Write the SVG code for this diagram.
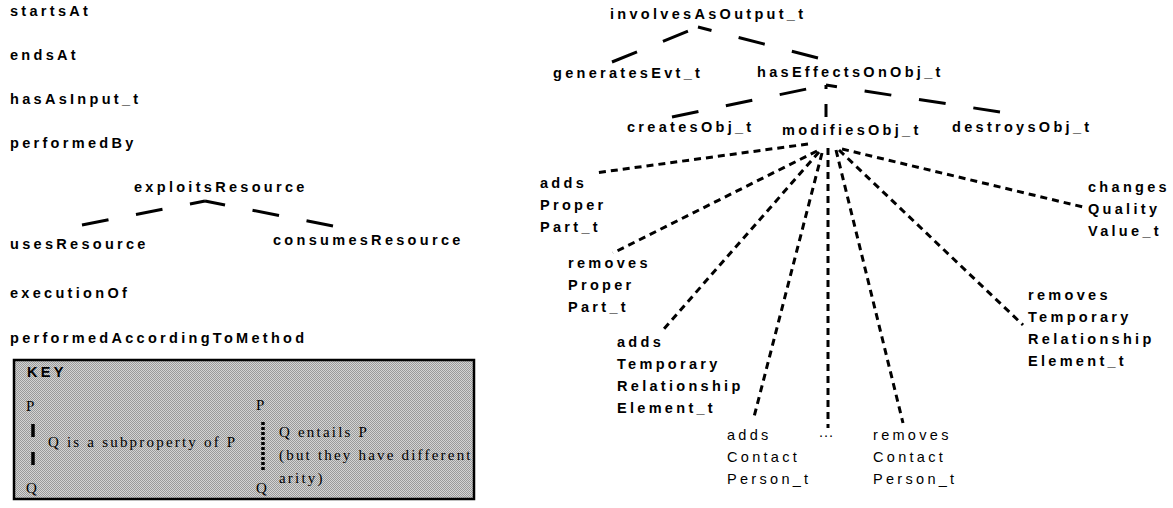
<svg xmlns="http://www.w3.org/2000/svg" width="1173" height="508" viewBox="0 0 1173 508">
  <style>
    .lb { font-family: "Liberation Sans", Arial, sans-serif; font-weight: bold; font-size: 14.5px; letter-spacing: 3.3px; fill: #000; }
    .ln { font-family: "Liberation Sans", Arial, sans-serif; font-weight: normal; font-size: 14.5px; letter-spacing: 3.3px; fill: #000; }
    .ks { font-family: "Liberation Serif", "Times New Roman", serif; font-size: 15px; letter-spacing: 2.2px; fill: #000; }
    .sub { fill: none; stroke: #000; stroke-width: 3; stroke-dasharray: 27 28; }
    .ent { fill: none; stroke: #000; stroke-width: 3; stroke-dasharray: 7 5; }
  </style>
  <defs>
    <pattern id="dither" width="2" height="2" patternUnits="userSpaceOnUse">
      <rect width="2" height="2" fill="#d4d4d4"/>
      <rect width="1" height="1" fill="#9a9a9a"/>
      <rect x="1" y="1" width="1" height="1" fill="#9a9a9a"/>
    </pattern>
  </defs>
  <rect width="1173" height="508" fill="#fff"/>

  <!-- connectors: dashed = subproperty, dotted = entailment -->
  <g id="connectors">
    <path class="sub" d="M82,225 L205,201"/>
    <path class="sub" d="M333,226 L205,201"/>
    <path class="sub" d="M612,62 L698,27"/>
    <path class="sub" d="M818,58 L698,27"/>
    <path class="sub" d="M672,117 L826,85"/>
    <path class="sub" d="M1000,112 L826,85"/>
    <path class="sub" d="M826,117 L826,85" style="stroke-dasharray:13 15"/>
    <path class="ent" d="M808,144 L595,173"/>
    <path class="ent" d="M817,151 L613,253"/>
    <path class="ent" d="M819,152 L663,330"/>
    <path class="ent" d="M822,153 L754,417"/>
    <path class="ent" d="M828,148 L828,428"/>
    <path class="ent" d="M836,150 L903,423"/>
    <path class="ent" d="M839,150 L1023,325"/>
    <path class="ent" d="M842,149 L1083,207"/>
  </g>

  <!-- process properties -->
  <g id="startsAt"><text class="lb" x="10" y="16">startsAt</text></g>
  <g id="endsAt"><text class="lb" x="10" y="60">endsAt</text></g>
  <g id="hasAsInput_t"><text class="lb" x="10" y="104">hasAsInput_t</text></g>
  <g id="performedBy"><text class="lb" x="10" y="148">performedBy</text></g>
  <g id="exploitsResource"><text class="lb" x="134" y="192">exploitsResource</text></g>
  <g id="usesResource"><text class="lb" x="10" y="249">usesResource</text></g>
  <g id="consumesResource"><text class="lb" x="273" y="245">consumesResource</text></g>
  <g id="executionOf"><text class="lb" x="10" y="298">executionOf</text></g>
  <g id="performedAccordingToMethod"><text class="lb" x="10" y="343">performedAccordingToMethod</text></g>

  <!-- legend -->
  <g id="key">
    <rect x="14" y="360" width="460" height="139" fill="url(#dither)" stroke="#000" stroke-width="2.5"/>
    <text class="lb" x="27" y="377">KEY</text>
    <text class="ks" x="26" y="411">P</text>
    <line x1="33" y1="424" x2="33" y2="437" stroke="#000" stroke-width="3.5"/>
    <line x1="33" y1="452" x2="33" y2="465" stroke="#000" stroke-width="3.5"/>
    <text class="ks" x="48" y="447">Q is a subproperty of P</text>
    <text class="ks" x="26" y="493">Q</text>
    <text class="ks" x="256" y="410">P</text>
    <line x1="263" y1="422" x2="263" y2="470" stroke="#000" stroke-width="3.5" stroke-dasharray="3 2"/>
    <text class="ks" x="279" y="437">Q entails P</text>
    <text class="ks" x="279" y="460">(but they have different</text>
    <text class="ks" x="279" y="483">arity)</text>
    <text class="ks" x="256" y="493">Q</text>
  </g>

  <!-- output properties -->
  <g id="involvesAsOutput_t"><text class="lb" x="610" y="19">involvesAsOutput_t</text></g>
  <g id="generatesEvt_t"><text class="lb" x="553" y="78">generatesEvt_t</text></g>
  <g id="hasEffectsOnObj_t"><text class="lb" x="757" y="77">hasEffectsOnObj_t</text></g>
  <g id="createsObj_t"><text class="lb" x="627" y="132">createsObj_t</text></g>
  <g id="modifiesObj_t"><text class="lb" x="782" y="135">modifiesObj_t</text></g>
  <g id="destroysObj_t"><text class="lb" x="952" y="132">destroysObj_t</text></g>

  <g id="addsProperPart_t">
    <text class="lb" x="540" y="188">adds</text>
    <text class="lb" x="540" y="210">Proper</text>
    <text class="lb" x="540" y="232">Part_t</text>
  </g>
  <g id="removesProperPart_t">
    <text class="lb" x="568" y="268">removes</text>
    <text class="lb" x="568" y="290">Proper</text>
    <text class="lb" x="568" y="312">Part_t</text>
  </g>
  <g id="addsTemporaryRelationshipElement_t">
    <text class="lb" x="617" y="347">adds</text>
    <text class="lb" x="617" y="369">Temporary</text>
    <text class="lb" x="617" y="391">Relationship</text>
    <text class="lb" x="617" y="413">Element_t</text>
  </g>
  <g id="addsContactPerson_t">
    <text class="ln" x="727" y="440">adds</text>
    <text class="ln" x="727" y="462">Contact</text>
    <text class="ln" x="727" y="484">Person_t</text>
  </g>
  <g id="more"><text class="ln" x="819" y="437" style="letter-spacing:1px">...</text></g>
  <g id="removesContactPerson_t">
    <text class="ln" x="873" y="440">removes</text>
    <text class="ln" x="873" y="462">Contact</text>
    <text class="ln" x="873" y="484">Person_t</text>
  </g>
  <g id="removesTemporaryRelationshipElement_t">
    <text class="lb" x="1028" y="300">removes</text>
    <text class="lb" x="1028" y="322">Temporary</text>
    <text class="lb" x="1028" y="344">Relationship</text>
    <text class="lb" x="1028" y="366">Element_t</text>
  </g>
  <g id="changesQualityValue_t">
    <text class="lb" x="1088" y="192">changes</text>
    <text class="lb" x="1088" y="214">Quality</text>
    <text class="lb" x="1088" y="236">Value_t</text>
  </g>
</svg>
